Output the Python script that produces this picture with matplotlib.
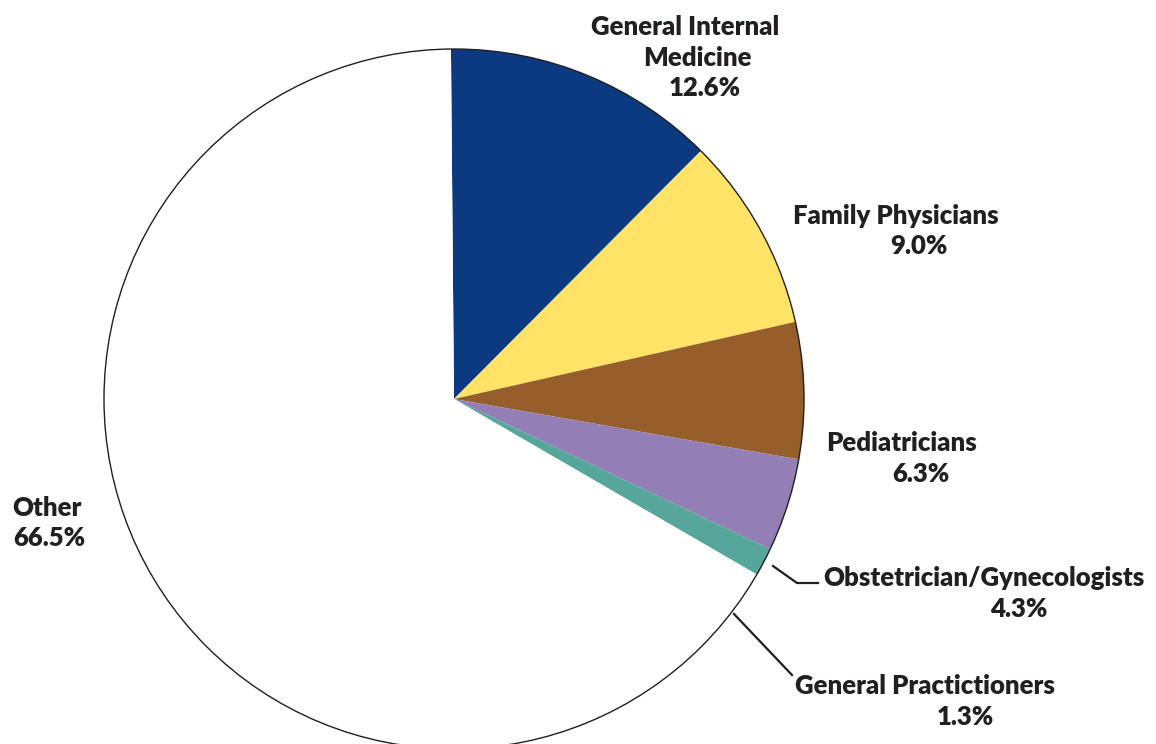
import matplotlib
matplotlib.use("Agg")
import matplotlib.pyplot as plt

categories = ["General Internal Medicine", "Family Physicians", "Pediatricians",
              "Obstetrician/Gynecologists", "General Practictioners", "Other"]
values = [12.6, 9.0, 6.3, 4.3, 1.3, 66.5]
colors = ["#0b3a80", "#fee366", "#955e2a", "#937fb6", "#57a69b", "#ffffff"]

W, H = 1156, 744
CX, CY, R = 454, 399, 350  # pie centre / radius in pixels

fig = plt.figure(figsize=(W / 100, H / 100), dpi=100)
ax = fig.add_axes([0, 0, 1, 1])

wedges, _ = ax.pie(values, colors=colors, startangle=90.5, counterclock=False,
                   radius=1.0, center=(0, 0), frame=True,
                   wedgeprops=dict(linewidth=0, edgecolor="none"))
ax.set_xlim(-CX / R, (W - CX) / R)
ax.set_ylim(-(H - CY) / R, CY / R)
ax.set_aspect("auto")
ax.axis("off")
circle = plt.Circle((0, 0), 1.0, fill=False, edgecolor="#231f20", linewidth=1.0)
ax.add_patch(circle)


def p2d(x, y):
    return (x - CX) / R, (CY - y) / R


txt = "#231f20"
font = dict(family=["Lato", "DejaVu Sans"], fontweight="heavy", fontsize=18.5, color=txt,
            ha="center", va="center")

label_lines = [
    ("General Internal", 685, 27), ("Medicine", 697, 58), ("12.6%", 705, 88),
    ("Family Physicians", 896, 216), ("9.0%", 919, 246),
    ("Pediatricians", 901, 443), ("6.3%", 921, 474),
    ("Obstetrician/Gynecologists", 984, 578), ("4.3%", 1019, 609),
    ("General Practictioners", 925, 686), ("1.3%", 965, 717),
    ("Other", 47, 508), ("66.5%", 49, 538),
]
for s, x, y in label_lines:
    ax.text(*p2d(x, y), s, **font)

# leader lines
ob = [p2d(773, 566), p2d(797, 583), p2d(818, 583)]
ax.plot([p[0] for p in ob], [p[1] for p in ob], color=txt, lw=1.6)
gp = [p2d(734, 614), p2d(792, 675)]
ax.plot([p[0] for p in gp], [p[1] for p in gp], color=txt, lw=1.6)

fig.savefig("out.png", dpi=100)
